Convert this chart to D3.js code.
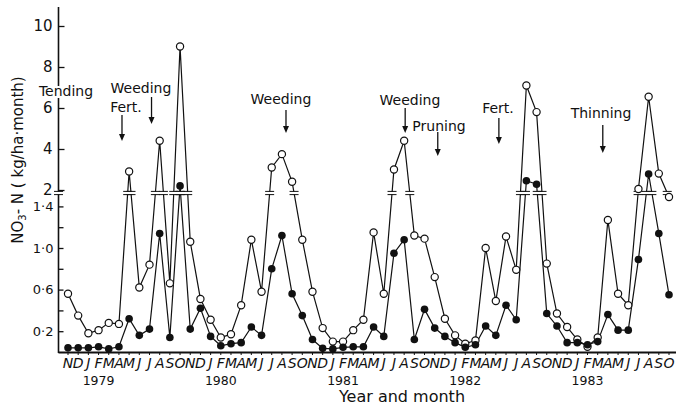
<!DOCTYPE html>
<html>
<head>
<meta charset="utf-8">
<script src="https://cdn.jsdelivr.net/npm/d3@7"></script>
<style>
  body { margin: 0; background: #fff; }
  text { font-family: "DejaVu Sans", sans-serif; fill: #111; }
</style>
</head>
<body>
<div id="canvas"></div>
<script>
"use strict"

/* data: monthly NO3-N, Nov 1978 .. Oct 1983 (60 months) */
let monthLetters = ["J", "F", "M", "A", "M", "J", "J", "A", "S", "O", "N", "D"];
let firstMonth = 10;   // November
let years = ["1979", "1980", "1981", "1982", "1983"];

let openValues = [
  0.56, 0.35,
  0.18, 0.21, 0.28, 0.27, 2.9, 0.62, 0.84, 4.4, 0.66, 9.0, 1.06, 0.51,
  0.31, 0.14, 0.17, 0.45, 1.08, 0.58, 3.1, 3.75, 2.4, 1.08, 0.58, 0.23,
  0.10, 0.10, 0.21, 0.31, 1.15, 0.56, 3.0, 4.4, 1.12, 1.09, 0.72, 0.32,
  0.16, 0.08, 0.11, 1.0, 0.49, 1.11, 0.79, 7.1, 5.8, 0.85, 0.37, 0.24,
  0.12, 0.05, 0.14, 1.27, 0.56, 0.45, 2.05, 6.55, 2.8, 1.49
];

let filledValues = [
  0.04, 0.04,
  0.04, 0.05, 0.03, 0.05, 0.32, 0.16, 0.22, 1.14, 0.14, 2.2, 0.22, 0.42,
  0.15, 0.06, 0.08, 0.09, 0.24, 0.16, 0.80, 1.12, 0.56, 0.35, 0.12, 0.035,
  0.03, 0.045, 0.05, 0.05, 0.24, 0.15, 0.95, 1.08, 0.12, 0.41, 0.23, 0.15,
  0.09, 0.045, 0.07, 0.25, 0.16, 0.45, 0.31, 2.45, 2.28, 0.37, 0.25, 0.09,
  0.09, 0.07, 0.10, 0.36, 0.21, 0.21, 0.89, 2.78, 1.14, 0.55
];

let lowerTicks = [0.2, 0.4, 0.6, 0.8, 1.0, 1.2, 1.4];
let lowerLabels = ["0·2", "", "0·6", "", "1·0", "", "1·4"];
let upperTicks = [2, 4, 6, 8, 10];

/* management events and the month each arrow points at */
let eventLabels = ["Tending", "Fert.", "Weeding", "Weeding", "Weeding", "Pruning", "Fert.", "Thinning"];
let eventMonths = [null, 5.3, 8.2, 21.4, 33.1, 36.3, 42.3, 52.5];

/* layout of the event texts (centre x, baseline y) and arrow y span */
let eventLayout = [
  { tx: 66,  ty: 96,  a1: 0,   a2: 0 },
  { tx: 126, ty: 112, a1: 115, a2: 141 },
  { tx: 141, ty: 93,  a1: 97,  a2: 124 },
  { tx: 281, ty: 104, a1: 110, a2: 133 },
  { tx: 410, ty: 105, a1: 108, a2: 133 },
  { tx: 439, ty: 131, a1: 132, a2: 156 },
  { tx: 498, ty: 113, a1: 118, a2: 144 },
  { tx: 601, ty: 118, a1: 125, a2: 153 }
];

let drawing = d3.select("#canvas")
  .append("svg")
  .attr("width", 677)
  .attr("height", 407);

/* scales: broken y axis, 0-1.5 below the break and 2-10 above it */
let x = d3.scaleLinear().domain([0, 59]).range([68, 669]);
let y = d3.scaleLinear().domain([0, 1.5, 2, 10]).range([352, 196, 190, 26]);
let breakY = 193;
let axisX = 58.5;

/* y axis line */
drawing.append("line")
  .attr("x1", axisX).attr("x2", axisX)
  .attr("y1", 7).attr("y2", 353)
  .attr("stroke", "#111").attr("stroke-width", 1.6);

/* x axis line */
drawing.append("line")
  .attr("x1", axisX).attr("x2", 676)
  .attr("y1", 352.5).attr("y2", 352.5)
  .attr("stroke", "#111").attr("stroke-width", 1.8);

/* y ticks and labels, lower part */
let lowerAxis = drawing.append("g")
  .attr("transform", "translate(" + axisX + ",0)")
  .call(d3.axisLeft(y).tickValues(lowerTicks).tickSizeInner(-5).tickSizeOuter(0)
    .tickPadding(5).tickFormat((d, i) => lowerLabels[i]));
lowerAxis.select(".domain").remove();
lowerAxis.selectAll("text").style("font-size", "13px").style("font-family", "DejaVu Sans");

/* y ticks and labels, upper part */
let upperAxis = drawing.append("g")
  .attr("transform", "translate(" + axisX + ",0)")
  .call(d3.axisLeft(y).tickValues(upperTicks).tickSizeInner(-6).tickSizeOuter(0)
    .tickPadding(6).tickFormat(d3.format("d")));
upperAxis.select(".domain").remove();
upperAxis.selectAll("text").style("font-size", "15px").style("font-family", "DejaVu Sans");
drawing.selectAll(".tick line").attr("stroke", "#111").attr("stroke-width", 1.3);

/* month ticks on the x axis */
let monthIndex = d3.range(openValues.length);
drawing.append("g").selectAll("line")
  .data(monthIndex)
  .join("line")
  .attr("x1", d => x(d)).attr("x2", d => x(d))
  .attr("y1", 352).attr("y2", 355)
  .attr("stroke", "#111").attr("stroke-width", 1);

/* month letters */
drawing.append("g").selectAll("text")
  .data(monthIndex)
  .join("text")
  .attr("x", d => x(d))
  .attr("y", 368)
  .attr("text-anchor", "middle")
  .style("font-size", "14px")
  .style("font-style", "italic")
  .text(d => monthLetters[(firstMonth + d) % 12]);

/* year labels, centred under February */
drawing.append("g").selectAll("text")
  .data(years)
  .join("text")
  .attr("x", (d, i) => x(3 + i * 12))
  .attr("y", 385)
  .attr("text-anchor", "middle")
  .style("font-size", "12.5px")
  .text(d => d);

/* axis titles */
drawing.append("text")
  .attr("x", 402).attr("y", 402)
  .attr("text-anchor", "middle")
  .style("font-size", "16px")
  .text("Year and month");

let yTitle = drawing.append("text")
  .attr("transform", "translate(23,160) rotate(-90)")
  .attr("text-anchor", "middle")
  .style("font-size", "15px");
yTitle.append("tspan").text("NO");
yTitle.append("tspan").attr("baseline-shift", "-25%").style("font-size", "10px").text("3");
yTitle.append("tspan").text("- N ( kg/ha·month)");

/* series lines */
let line = d3.line().x((d, i) => x(i)).y(d => y(d));

drawing.append("path")
  .datum(openValues)
  .attr("d", line)
  .attr("fill", "none").attr("stroke", "#111").attr("stroke-width", 1.2);

drawing.append("path")
  .datum(filledValues)
  .attr("d", line)
  .attr("fill", "none").attr("stroke", "#111").attr("stroke-width", 1.2);

/* break marks where a segment crosses the axis break */
function breakPoints(values) {
  let pts = [];
  for (let i = 0; i < values.length - 1; i++) {
    let y0 = y(values[i]), y1 = y(values[i + 1]);
    if ((y0 - breakY) * (y1 - breakY) < 0) {
      let t = (breakY - y0) / (y1 - y0);
      pts.push(x(i) + t * (x(i + 1) - x(i)));
    }
  }
  return pts;
}

let breaks = breakPoints(openValues).concat(breakPoints(filledValues)).concat([axisX]);
let breakMarks = drawing.append("g").selectAll("g")
  .data(breaks)
  .join("g");
breakMarks.append("rect")
  .attr("x", d => d - 4).attr("y", breakY - 1.3)
  .attr("width", 8).attr("height", 2.6)
  .attr("fill", "white");
breakMarks.append("line")
  .attr("x1", d => d - 4.5).attr("x2", d => d + 4.5)
  .attr("y1", breakY - 1.6).attr("y2", breakY - 1.6)
  .attr("stroke", "#111").attr("stroke-width", 1);
breakMarks.append("line")
  .attr("x1", d => d - 4.5).attr("x2", d => d + 4.5)
  .attr("y1", breakY + 1.6).attr("y2", breakY + 1.6)
  .attr("stroke", "#111").attr("stroke-width", 1);

/* points */
drawing.append("g").selectAll("circle")
  .data(openValues)
  .join("circle")
  .attr("cx", (d, i) => x(i)).attr("cy", d => y(d))
  .attr("r", 3.6)
  .attr("fill", "white").attr("stroke", "#111").attr("stroke-width", 1.2);

drawing.append("g").selectAll("circle")
  .data(filledValues)
  .join("circle")
  .attr("cx", (d, i) => x(i)).attr("cy", d => y(d))
  .attr("r", 3.8)
  .attr("fill", "#111");

/* event labels and arrows */
drawing.append("g").selectAll("text")
  .data(eventLabels)
  .join("text")
  .attr("x", (d, i) => eventLayout[i].tx)
  .attr("y", (d, i) => eventLayout[i].ty)
  .attr("text-anchor", "middle")
  .style("font-size", "14px")
  .style("paint-order", "stroke")
  .style("stroke", "white")
  .style("stroke-width", "4px")
  .text(d => d);

let arrowIndex = d3.range(eventLabels.length).filter(i => eventMonths[i] !== null);
let arrows = drawing.append("g").selectAll("g")
  .data(arrowIndex)
  .join("g");
arrows.append("line")
  .attr("x1", i => x(eventMonths[i])).attr("x2", i => x(eventMonths[i]))
  .attr("y1", i => eventLayout[i].a1).attr("y2", i => eventLayout[i].a2 - 5)
  .attr("stroke", "#111").attr("stroke-width", 1.3);
arrows.append("path")
  .attr("d", i => {
    let ax = x(eventMonths[i]), ay = eventLayout[i].a2;
    return "M" + (ax - 3) + "," + (ay - 7) + "L" + (ax + 3) + "," + (ay - 7) + "L" + ax + "," + ay + "Z";
  })
  .attr("fill", "#111");
</script>
</body>
</html>
